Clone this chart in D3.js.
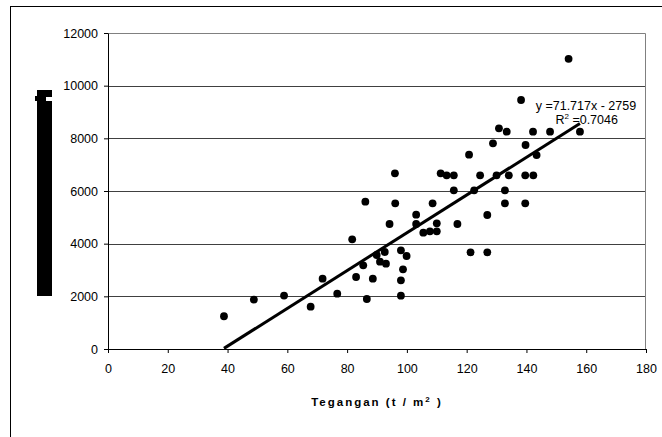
<!DOCTYPE html>
<html>
<head>
<meta charset="utf-8">
<script src="https://cdn.jsdelivr.net/npm/d3@7"></script>
<style>
  body { margin: 0; background: #fff; }
  svg { display: block; font-family: "Liberation Sans", Arial, sans-serif; }
  .axis text { font-size: 12.5px; fill: #000; }
  .axis path, .axis line { stroke: #000; }
  .grid line { stroke: #404040; }
</style>
</head>
<body>
<div id="chart"></div>
<script>
// Data
var tegangan = [38.8, 48.8, 58.9, 67.8, 71.8, 76.7, 81.7, 83.0, 85.4, 86.1,
  86.6, 88.6, 89.9, 91.0, 92.6, 93.0, 94.2, 96.0, 96.1, 98.0,
  98.0, 98.0, 98.7, 99.9, 103.1, 103.1, 105.5, 107.7, 108.6, 110.0,
  110.0, 111.3, 113.3, 115.7, 115.7, 116.9, 120.8, 121.3, 122.5, 124.5,
  126.9, 126.9, 128.8, 130.0, 130.8, 132.8, 132.8, 133.4, 134.1, 138.2,
  139.7, 139.6, 139.6, 142.2, 142.3, 143.4, 147.9, 154.1, 157.9]
var nilai = [1243, 1877, 2030, 1606, 2670, 2100, 4164, 2734, 3177, 5594,
  1898, 2670, 3569, 3316, 3683, 3240, 4746, 6672, 5531, 3747,
  2607, 2025, 3025, 3531, 5100, 4746, 4417, 4468, 5531, 4468,
  4771, 6671, 6595, 6595, 6025, 4746, 7378, 3671, 6025, 6595,
  5088, 3671, 7810, 6595, 8380, 6025, 5531, 8251, 6595, 9455,
  7746, 6595, 5531, 8251, 6595, 7366, 8251, 11020, 8251]
var xTicks = [0, 20, 40, 60, 80, 100, 120, 140, 160, 180]
var yTicks = [0, 2000, 4000, 6000, 8000, 10000, 12000]
var trend = [71.717, -2759]   // slope, intercept
var eqLabel = "y =71.717x - 2759"
var r2Label = "0.7046"
var xLabel = "Tegangan (t / m"

var outerWidth = 662, outerHeight = 437
var margin = {top: 33, right: 16, bottom: 88, left: 108}
var plotWidth = outerWidth - margin.left - margin.right
var plotHeight = outerHeight - margin.top - margin.bottom

var x = d3.scaleLinear().domain([0, 180]).range([0, plotWidth])
var y = d3.scaleLinear().domain([0, 12000]).range([plotHeight, 0])

var root = d3.select("#chart")
  .append("svg")
    .attr("width", outerWidth)
    .attr("height", outerHeight)

// Outer chart frame (runs off the bottom and right edges)
root.append("rect")
    .attr("x", 10.5)
    .attr("y", 6.5)
    .attr("width", 700)
    .attr("height", 500)
    .attr("fill", "none")
    .attr("stroke", "#000")

// Black block where the y title should be
root.append("rect").attr("x", 37).attr("y", 90).attr("width", 15).attr("height", 206)
root.append("rect").attr("x", 35).attr("y", 96).attr("width", 3).attr("height", 5)
root.append("rect").attr("x", 46).attr("y", 97).attr("width", 6).attr("height", 4).attr("fill", "#fff")

var svg = root.append("g")
    .attr("transform", "translate(" + margin.left + "," + margin.top + ")")

// Horizontal gridlines
svg.append("g")
    .classed("grid", true)
  .selectAll("line")
  .data(yTicks.filter(function(d) { return d > 0 && d < 12000 }))
  .enter().append("line")
    .attr("x1", 0)
    .attr("x2", plotWidth)
    .attr("y1", function(d) { return Math.round(y(d)) + 0.5 })
    .attr("y2", function(d) { return Math.round(y(d)) + 0.5 })

// Grey plot border, top and right
svg.append("path")
    .attr("d", "M0,0.5H" + (plotWidth - 0.5) + "V" + plotHeight)
    .attr("fill", "none")
    .attr("stroke", "#808080")

// Axes
var xAxis = d3.axisBottom(x).tickValues(xTicks).tickSize(4).tickPadding(11).tickSizeOuter(0)
var yAxis = d3.axisLeft(y).tickValues(yTicks).tickFormat(d3.format("d"))
    .tickSize(4).tickPadding(6).tickSizeOuter(0)

svg.append("g")
    .classed("x axis", true)
    .attr("transform", "translate(0," + plotHeight + ")")
    .call(xAxis)

svg.append("g")
    .classed("y axis", true)
    .call(yAxis)

svg.selectAll(".x.axis text").attr("dy", "0.71em")

// x axis title
var title = svg.append("text")
    .attr("x", plotWidth / 2)
    .attr("y", plotHeight + 57)
    .attr("text-anchor", "middle")
    .attr("font-size", "11.5px")
    .attr("font-weight", "bold")
    .attr("letter-spacing", "2px")
    .text(xLabel)
title.append("tspan").attr("dy", -4).attr("font-size", "8px").text("2")
title.append("tspan").attr("dy", 4).text(" )")

// Trendline over the data range
var xs = d3.extent(tegangan)
svg.append("line")
    .attr("x1", x(xs[0]))
    .attr("y1", y(trend[0] * xs[0] + trend[1]))
    .attr("x2", x(xs[1]))
    .attr("y2", y(trend[0] * xs[1] + trend[1]))
    .attr("stroke", "#000")
    .attr("stroke-width", 3)

// Points
svg.append("g")
  .selectAll("circle")
  .data(tegangan)
  .enter().append("circle")
    .attr("cx", function(d) { return x(d) })
    .attr("cy", function(d, i) { return y(nilai[i]) })
    .attr("r", 3.9)
    .attr("fill", "#000")

// Equation labels
svg.append("text")
    .attr("x", x(143.1))
    .attr("y", y(9090))
    .attr("font-size", "12.5px")
    .text(eqLabel)

var r2 = svg.append("text")
    .attr("x", x(149.7))
    .attr("y", y(8540))
    .attr("font-size", "12.5px")
    .text("R")
r2.append("tspan").attr("dy", -5).attr("font-size", "8px").text("2")
r2.append("tspan").attr("dy", 5).text(" =" + r2Label)
</script>
</body>
</html>
